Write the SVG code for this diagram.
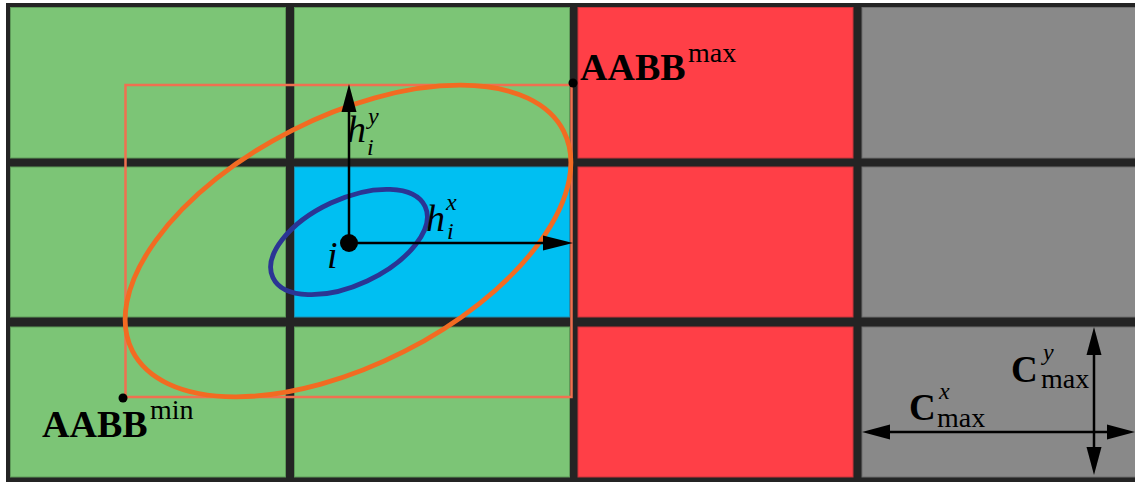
<svg xmlns="http://www.w3.org/2000/svg" width="1135" height="483" viewBox="0 0 1135 483">
<style>
.g{fill:#7cc576;stroke:#5e9a59;stroke-width:1}
.b{fill:#00bff2;stroke:#1f8fb0;stroke-width:1}
.r{fill:#ff3f47;stroke:#c9353b;stroke-width:1}
.k{fill:#898989;stroke:#6f6f6f;stroke-width:1}
.ax{stroke:#000;stroke-width:2.5;fill:none}
.hd{fill:#000}
.it{font-family:"Liberation Serif",serif;font-style:italic;fill:#000}
.bd{font-family:"Liberation Serif",serif;font-weight:bold;fill:#000}
.rm{font-family:"Liberation Serif",serif;fill:#000}
</style>
<rect x="0" y="0" width="1135" height="483" fill="#ffffff"/>
<rect x="6" y="3" width="1129" height="479" fill="#242424"/>
<g id="cells">
<rect class="g" x="10.5" y="7.5" width="275" height="150.5"/>
<rect class="g" x="294.5" y="7.5" width="275" height="150.5"/>
<rect class="r" x="578" y="7.5" width="275" height="150.5"/>
<rect class="k" x="862" y="7.5" width="274" height="150.5"/>
<rect class="g" x="10.5" y="167" width="275" height="150"/>
<rect class="b" x="294.5" y="167" width="275" height="150"/>
<rect class="r" x="578" y="167" width="275" height="150"/>
<rect class="k" x="862" y="167" width="274" height="150"/>
<rect class="g" x="10.5" y="327" width="275" height="150"/>
<rect class="g" x="294.5" y="327" width="275" height="150"/>
<rect class="r" x="578" y="327" width="275" height="150"/>
<rect class="k" x="862" y="327" width="274" height="150"/>
</g>
<g id="aabb">
<rect x="125.5" y="85" width="446" height="312" fill="none" stroke="#f07050" stroke-width="2.5"/>
<circle cx="123" cy="398" r="4.5" fill="#000"/>
<circle cx="573" cy="83" r="4.5" fill="#000"/>
</g>
<g id="ellipses">
<ellipse cx="348" cy="241" rx="242" ry="124" transform="rotate(-27 348 241)" fill="none" stroke="#f26b22" stroke-width="4.8"/>
<ellipse cx="349" cy="242" rx="84" ry="43" transform="rotate(-25 349 242)" fill="none" stroke="#2b3594" stroke-width="4.8"/>
</g>
<g id="connectors">
<line class="ax" x1="349" y1="243" x2="349" y2="108"/>
<polygon class="hd" points="349,84 341.5,112 356.5,112"/>
<line class="ax" x1="349" y1="243" x2="547" y2="243"/>
<polygon class="hd" points="573,243 543,235.5 543,250.5"/>
<line class="ax" x1="886" y1="432" x2="1111" y2="432"/>
<polygon class="hd" points="862,432 890,424.5 890,439.5"/>
<polygon class="hd" points="1135,432 1107,424.5 1107,439.5"/>
<line class="ax" x1="1094" y1="351" x2="1094" y2="451"/>
<polygon class="hd" points="1094,327 1086.5,355 1101.5,355"/>
<polygon class="hd" points="1094,475 1086.5,447 1101.5,447"/>
</g>
<g id="point-i">
<circle cx="349" cy="243" r="9" fill="#000"/>
<text class="it" x="327" y="268" font-size="38">i</text>
</g>
<g id="label-hy">
<text class="it" x="347" y="142" font-size="38">h</text>
<text class="it" x="368" y="124" font-size="24">y</text>
<text class="it" x="367" y="155" font-size="24">i</text>
</g>
<g id="label-hx">
<text class="it" x="426" y="231" font-size="38">h</text>
<text class="it" x="446" y="210" font-size="24">x</text>
<text class="it" x="447" y="239" font-size="24">i</text>
</g>
<g id="label-aabbmax">
<text class="bd" x="580" y="80" font-size="38">AABB</text>
<text class="rm" x="688" y="62" font-size="28">max</text>
</g>
<g id="label-aabbmin">
<text class="bd" x="42" y="437" font-size="38">AABB</text>
<text class="rm" x="150" y="419" font-size="28">min</text>
</g>
<g id="label-cx">
<text class="bd" x="909" y="420" font-size="37">C</text>
<text class="it" x="939" y="399" font-size="24">x</text>
<text class="rm" x="937" y="427" font-size="28">max</text>
</g>
<g id="label-cy">
<text class="bd" x="1011" y="382" font-size="37">C</text>
<text class="it" x="1043" y="360" font-size="24">y</text>
<text class="rm" x="1041" y="388" font-size="28">max</text>
</g>
</svg>
